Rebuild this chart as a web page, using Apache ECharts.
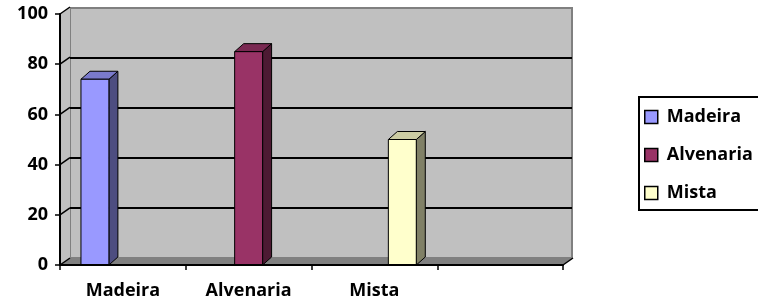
<!DOCTYPE html>
<html>
<head>
<meta charset="utf-8">
<script src="https://cdn.jsdelivr.net/npm/echarts/dist/echarts.min.js"></script>
<style>
  html, body { margin: 0; padding: 0; background: #fff; }
  #chart { width: 758px; height: 308px; }
</style>
</head>
<body>
<div id="chart"></div>
<script>
// dados
const categories = ['Madeira', 'Alvenaria', 'Mista', '']
const seriesNames = ['Madeira', 'Alvenaria', 'Mista']
const madeira = [74, null, null, null]
const alvenaria = [null, 85, null, null]
const mista = [null, null, 50, null]
const yTicks = [0, 20, 40, 60, 80, 100]

const palette = [
  { front: '#9999FF', top: '#7A7ACC', side: '#4D4D80' },
  { front: '#993366', top: '#7A2952', side: '#4D1A33' },
  { front: '#FFFFCC', top: '#CCCCA3', side: '#808066' }
]

const font = { fontFamily: 'Open Sans', fontWeight: 'bold', color: '#000' }
const wallDx = 10 // profundidade da parede
const wallDy = 7
const barDx = 9 // profundidade das barras
const barDy = 8

function toPoints (arr) {
  const out = []
  arr.forEach((v, i) => { if (v !== null) out.push([i, v]) })
  return out
}

// barra 3D: frente, topo e lado
function barRender (idx) {
  const c = palette[idx]
  return function (params, api) {
    const cat = api.value(0)
    const band = api.size([1, 0])[0]
    const w = band / 4.5
    const base = api.coord([cat, 0])
    const top = api.coord([cat, api.value(1)])
    const x = base[0] - band / 3 + idx * w
    const y0 = base[1]
    const y1 = top[1]
    const line = { stroke: '#000', lineWidth: 1 }
    return {
      type: 'group',
      children: [
        { type: 'polygon', shape: { points: [[x + w, y1], [x + w + barDx, y1 - barDy], [x + w + barDx, y0 - barDy], [x + w, y0]] }, style: Object.assign({ fill: c.side }, line) },
        { type: 'polygon', shape: { points: [[x, y1], [x + barDx, y1 - barDy], [x + w + barDx, y1 - barDy], [x + w, y1]] }, style: Object.assign({ fill: c.top }, line) },
        { type: 'rect', shape: { x: x, y: y1, width: w, height: y0 - y1 }, style: Object.assign({ fill: c.front }, line) }
      ]
    }
  }
}

// parede lateral, chão e traços diagonais
function frameRender (params, api) {
  const cs = params.coordSys
  const x0 = cs.x
  const x1 = cs.x + cs.width
  const yt = cs.y
  const yb = cs.y + cs.height
  const children = [
    { type: 'polygon', shape: { points: [[x0, yt], [x0 + wallDx, yt - wallDy], [x0 + wallDx, yb - wallDy], [x0, yb]] }, style: { fill: '#C0C0C0' } },
    { type: 'polygon', shape: { points: [[x0, yb], [x0 + wallDx, yb - wallDy], [x1 + wallDx, yb - wallDy], [x1, yb]] }, style: { fill: '#808080' } },
    { type: 'line', shape: { x1: x1, y1: yb, x2: x1 + wallDx, y2: yb - wallDy }, style: { stroke: '#000', lineWidth: 1.5 } }
  ]
  yTicks.forEach(v => {
    const p = api.coord([0, v])
    children.push({ type: 'line', shape: { x1: x0, y1: p[1], x2: x0 + wallDx, y2: p[1] - wallDy }, style: { stroke: '#000', lineWidth: 1.5 } })
  })
  return { type: 'group', children: children }
}

const chart = echarts.init(document.getElementById('chart'))

const option = {
  animation: false,
  backgroundColor: '#fff',
  color: palette.map(p => p.front),
  grid: [
    { left: 60, top: 14, width: 503, height: 251 },
    { left: 70, top: 8, width: 502, height: 250, show: true, backgroundColor: '#C0C0C0', borderColor: '#808080', borderWidth: 2 }
  ],
  legend: {
    orient: 'vertical',
    left: 639,
    top: 97,
    padding: [11, 30, 8, 5],
    itemGap: 20,
    itemWidth: 13,
    itemHeight: 13,
    icon: 'rect',
    borderColor: '#000',
    borderWidth: 2,
    itemStyle: { borderColor: '#000', borderWidth: 1.5 },
    textStyle: Object.assign({ fontSize: 18, lineHeight: 18, padding: [0, 0, 0, 4] }, font),
    data: seriesNames
  },
  xAxis: [
    {
      gridIndex: 0,
      type: 'category',
      data: categories,
      z: 5,
      axisLine: { lineStyle: { color: '#000', width: 2 } },
      axisTick: { show: true, interval: 0, length: 5, lineStyle: { color: '#000', width: 1.5 } },
      axisLabel: Object.assign({ fontSize: 18, margin: 17, interval: 0 }, font),
      splitLine: { show: false }
    },
    {
      gridIndex: 1,
      type: 'category',
      data: categories,
      show: false
    }
  ],
  yAxis: [
    {
      gridIndex: 0,
      type: 'value',
      min: 0,
      max: 100,
      interval: 20,
      z: 5,
      axisLine: { show: true, lineStyle: { color: '#000', width: 2 } },
      axisTick: { show: true, length: 5, lineStyle: { color: '#000', width: 1.5 } },
      axisLabel: Object.assign({ fontSize: 18, margin: 12 }, font),
      splitLine: { show: false }
    },
    {
      gridIndex: 1,
      type: 'value',
      min: 0,
      max: 100,
      interval: 20,
      axisLine: { show: false },
      axisTick: { show: false },
      axisLabel: { show: false },
      splitLine: { show: true, showMinLine: false, showMaxLine: false, lineStyle: { color: '#000', width: 2 } }
    }
  ],
  series: [
    {
      name: 'frame',
      type: 'custom',
      xAxisIndex: 0,
      yAxisIndex: 0,
      z: 1,
      silent: true,
      renderItem: frameRender,
      data: [[0, 0]]
    },
    { name: seriesNames[0], type: 'custom', z: 3, itemStyle: { color: palette[0].front }, renderItem: barRender(0), data: toPoints(madeira) },
    { name: seriesNames[1], type: 'custom', z: 3, itemStyle: { color: palette[1].front }, renderItem: barRender(1), data: toPoints(alvenaria) },
    { name: seriesNames[2], type: 'custom', z: 3, itemStyle: { color: palette[2].front }, renderItem: barRender(2), data: toPoints(mista) }
  ]
}

chart.setOption(option)
</script>
</body>
</html>
